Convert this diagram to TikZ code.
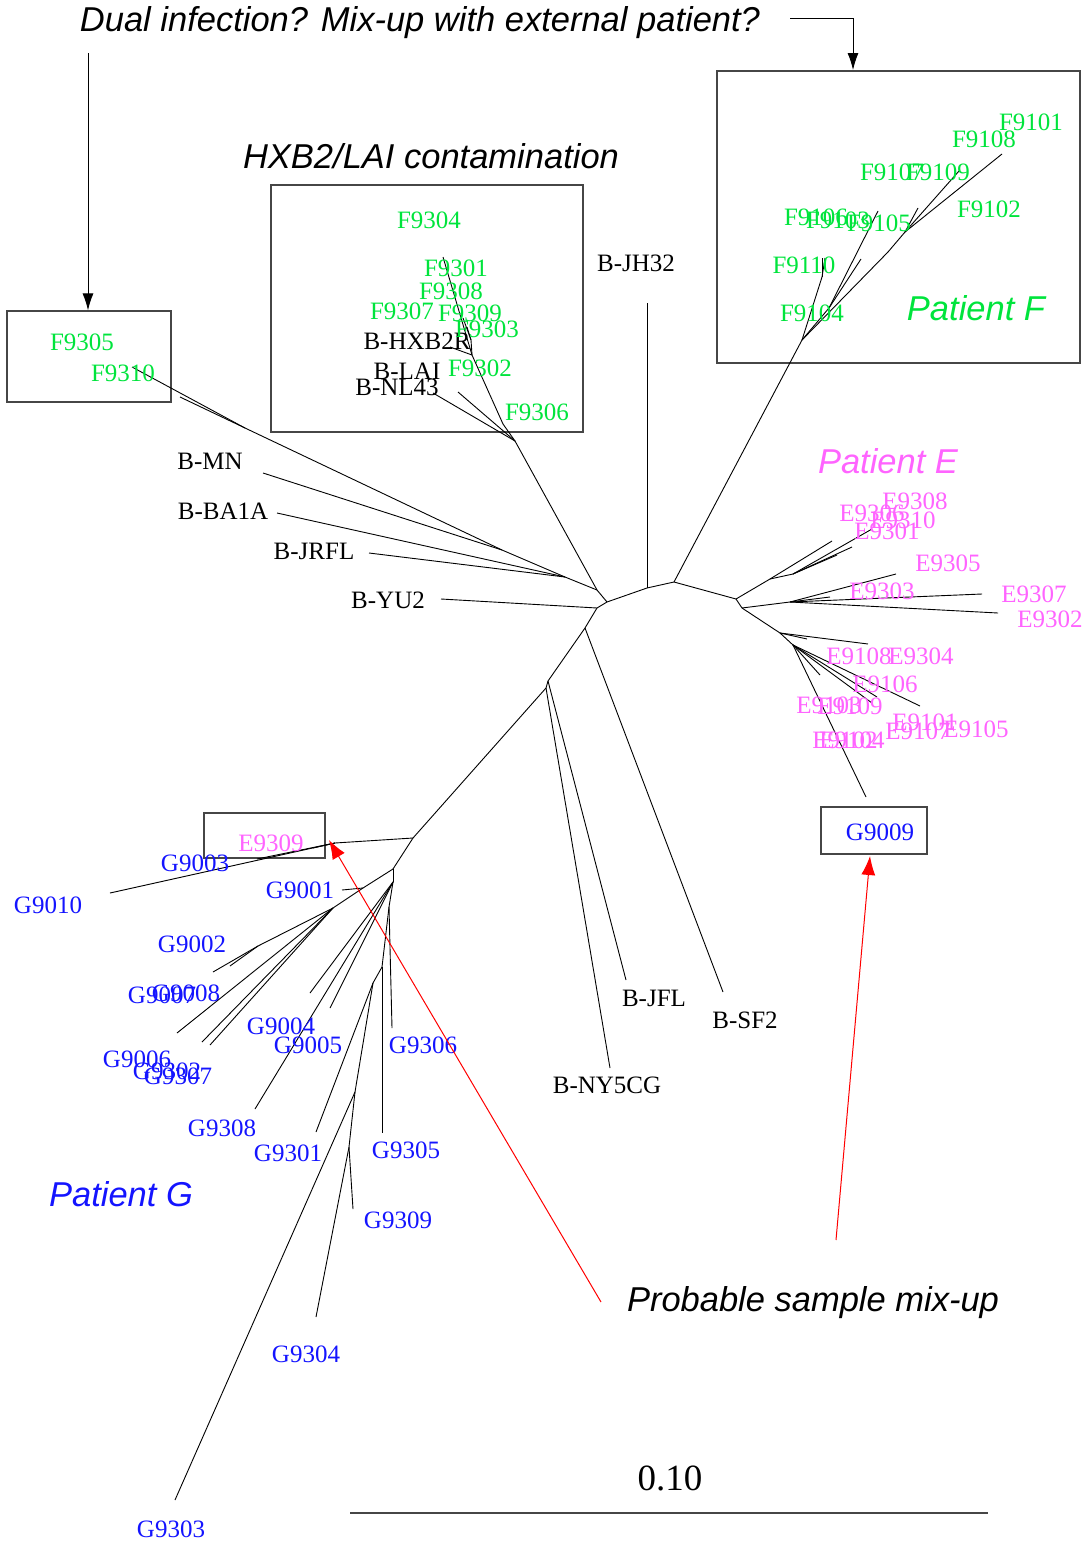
\documentclass[tikz,border=0pt]{standalone}
\usepackage{fontspec}
\setmainfont{Liberation Serif}
\newfontfamily\notefont{Liberation Sans}
\usetikzlibrary{arrows,arrows.meta}
\definecolor{patF}{RGB}{0,228,60}
\definecolor{patE}{RGB}{255,100,255}
\definecolor{patG}{RGB}{20,20,255}
\definecolor{framegray}{RGB}{70,70,70}
\tikzstyle{branch} = [draw, black, line width=0.9pt]
\tikzstyle{seq} = [inner sep=0pt, font=\fontsize{25}{28}\selectfont]
\tikzstyle{seqF} = [seq, text=patF]
\tikzstyle{seqE} = [seq, text=patE]
\tikzstyle{seqG} = [seq, text=patG]
\tikzstyle{note} = [inner sep=0pt, font=\notefont\itshape\fontsize{34.5}{38}\selectfont]
\tikzstyle{frame} = [draw=framegray, line width=1.3pt, inner sep=0pt]
\tikzstyle{pointer} = [->, black, line width=0.9pt, >={Latex[length=17pt,width=11pt]}]
\tikzstyle{mixup} = [->, red, line width=1pt, >={Latex[length=19pt,width=14pt]}]

\begin{document}
\begin{tikzpicture}[x=1pt, y=-1pt]
\useasboundingbox (0,0) rectangle (1092,1547);

% boxes
\node [frame, minimum width=164pt, minimum height=91pt] (boxA) at (89,356.5) {};
\node [frame, minimum width=312pt, minimum height=247pt] (boxH) at (427,308.5) {};
\node [frame, minimum width=363pt, minimum height=292pt] (boxF) at (898.5,217) {};
\node [frame, minimum width=121pt, minimum height=45pt] (boxE) at (264.5,835.5) {};
\node [frame, minimum width=106pt, minimum height=47pt] (boxG) at (874,830.5) {};

% backbone and internal nodes
\coordinate (c1) at (607,602);
\foreach \n/\x/\y/\p in {b0/597/590/c1, c2/647/588/c1, c3/674/582/c2, e0/736/599/c3,
    b1/597/608/c1, b2/585/628/b1, b3/548/681/b2, b4/546/688/b3, g0/413/838/b4,
    f0/802/340/c3, h0/515/441/b0, bm/565/577/b0, mn/502/550/bm, p5/245/428/mn}
  {\coordinate (\n) at (\x,\y); \draw [branch] (\p) -- (\n);}

% subtype B references
\foreach \n/\x/\y/\p in {tJH32/647/303/c2, tYU2/441/599/b1, tSF2/723/992/b2,
    tJFL/626/980/b3, tNY5CG/610/1068/b4, tJRFL/369/553/bm, tBA1A/277/513/bm,
    tMN/263/473/mn, tF9310/132/367/p5, tF9305/180/397/p5,
    tNL43/433/393/h0, tLAI/458/392/h0, h1/503/424/h0, h2/472/355/h1, h3/471/340/h2,
    tF9301/443/257/h2, tHXB2R/450/347/h2, tF9309/463/318/h3, tF9303/467/327/h3}
  {\coordinate (\n) at (\x,\y); \draw [branch] (\p) -- (\n);}

% patient F
\foreach \n/\x/\y/\p in {f1/822/277/f0, tF9110a/822/258/f1, tF9110b/825/258/f1,
    f2/829/308/f0, tF9107/878/211/f2, tF9106/861/259/f2, f3/888/252/f0,
    f4/905/232/f3, tF9105/918/208/f4, tF9109/959/171/f4, tF9101/1002/154/f4}
  {\coordinate (\n) at (\x,\y); \draw [branch] (\p) -- (\n);}

% patient E
\foreach \n/\x/\y/\p in {e1/742/608/e0, e2/770/579/e0, tE1/832/541/e2, e3/793/574/e2,
    tE2/872/529/e3, tE3/852/547/e3, tE4/837/555/e3, e4/790/602/e1,
    tE5/896/574/e4, tE6/830/597/e4, tE7/982/594/e4, tE8/998/613/e4,
    e5/780/633/e1, tE9/868/644/e5, tE10/807/639/e5, e6/793/645/e5,
    tE11/820/675/e6, tE12/920/706/e6, tE13/877/697/e6, tE14/872/703/e6, tG9009/866/797/e6}
  {\coordinate (\n) at (\x,\y); \draw [branch] (\p) -- (\n);}

% patient G
\foreach \n/\x/\y/\p in {g1/335/843/g0, tG9010/110/893/g1, tG9003/257/859/g1,
    tE9309/313/848/g1, g2/393/869/g0, g2a/363/888/g2, tG9001/342/890/g2a,
    g3/333/908/g2a, g3a/258/946/g3, tG9002/213/972/g3a, tG9008/230/966/g3a,
    tG9006/177/1033/g3, tG9302/202/1042/g3, tG9307/210/1045/g3,
    g4/393/882/g2, tG9004/310/993/g4, tG9005/330/1008/g4, tG9308/255/1109/g4,
    g5/389/907/g4, tG9306/392/1028/g5, g6/382/967/g5, tG9305/382/1133/g6,
    g7/373/983/g6, tG9301/316/1132/g7, g9/355/1092/g7, tG9303/175/1500/g9,
    g8/349/1147/g9, tG9304/316/1317/g8, tG9309/353/1209/g8}
  {\coordinate (\n) at (\x,\y); \draw [branch] (\p) -- (\n);}

% labels
\foreach \n/\x/\y in {B-JH32/636/263, B-MN/210/461, B-BA1A/223/511, B-JRFL/314/551,
    B-YU2/388/600, B-HXB2R/417/341, B-LAI/407/371, B-NL43/397/387,
    B-JFL/654/998, B-SF2/745/1020, B-NY5CG/607/1085}
  \node [seq] (l\n) at (\x,\y) {\n};
\foreach \n/\x/\y in {F9304/429/220, F9301/456/268, F9308/451/291, F9307/402/311,
    F9309/470/313, F9303/487/329, F9302/480/368, F9306/537/412, F9305/82/342,
    F9310/123/373, F9101/1031/122, F9108/984/139, F9107/892/172, F9109/938/172,
    F9102/989/209, F9106/816/217, F9103/838/220, F9105/879/223, F9110/804/265,
    F9104/812/313}
  \node [seqF] (l\n) at (\x,\y) {\n};
\foreach \n/\x/\y in {E9308/915/501, E9306/872/513, E9310/903/520, E9301/887/531,
    E9305/948/563, E9303/882/591, E9307/1034/594, E9302/1050/619, E9108/859/656,
    E9304/921/656, E9106/885/684, E9103/829/705, E9109/850/706, E9101/925/722,
    E9107/918/731, E9105/976/729, E9102/845/740, E9104/852/740, E9309/271/843}
  \node [seqE] (l\n) at (\x,\y) {\n};
\foreach \n/\x/\y in {G9009/880/832, G9003/195/863, G9010/48/905, G9001/300/890,
    G9002/192/944, G9007/162/995, G9008/186/993, G9004/281/1026, G9005/308/1045,
    G9306/423/1045, G9006/137/1059, G9302/167/1071, G9307/178/1076, G9308/222/1128,
    G9301/288/1153, G9305/406/1150, G9309/398/1220, G9304/306/1354, G9303/171/1529}
  \node [seqG] (l\n) at (\x,\y) {\n};

% annotations
\node [note] (dual) at (420,23) {Dual infection? Mix-up with external patient?};
\node [note] (contam) at (431,156) {HXB2/LAI contamination};
\node [note, text=patF] (patientF) at (976,308) {Patient F};
\node [note, text=patE] (patientE) at (888,461) {Patient E};
\node [note, text=patG] (patientG) at (121,1194) {Patient G};
\node [note] (mixnote) at (813,1303) {Probable sample mix-up};

\coordinate (dualL) at (88,53);
\coordinate (dualR) at (790,18);
\coordinate (dualF) at (853,70);
\draw [pointer] (dualL) -- (dualL |- boxA.north);
\draw [pointer] (dualR) -| (dualF);

\coordinate (mixE) at (601,1302);
\coordinate (mixG) at (836,1240);
\coordinate (hitE) at (329,840);
\coordinate (hitG) at (870,856);
\draw [mixup] (mixE) -- (hitE);
\draw [mixup] (mixG) -- (hitG);

% scale bar
\coordinate (barL) at (350,1513);
\coordinate (barR) at (988,1513);
\draw [framegray, line width=1.3pt] (barL) -- (barR);
\node [inner sep=0pt, font=\fontsize{37}{40}\selectfont] (barlabel) at (670,1478) {0.10};
\end{tikzpicture}
\end{document}
